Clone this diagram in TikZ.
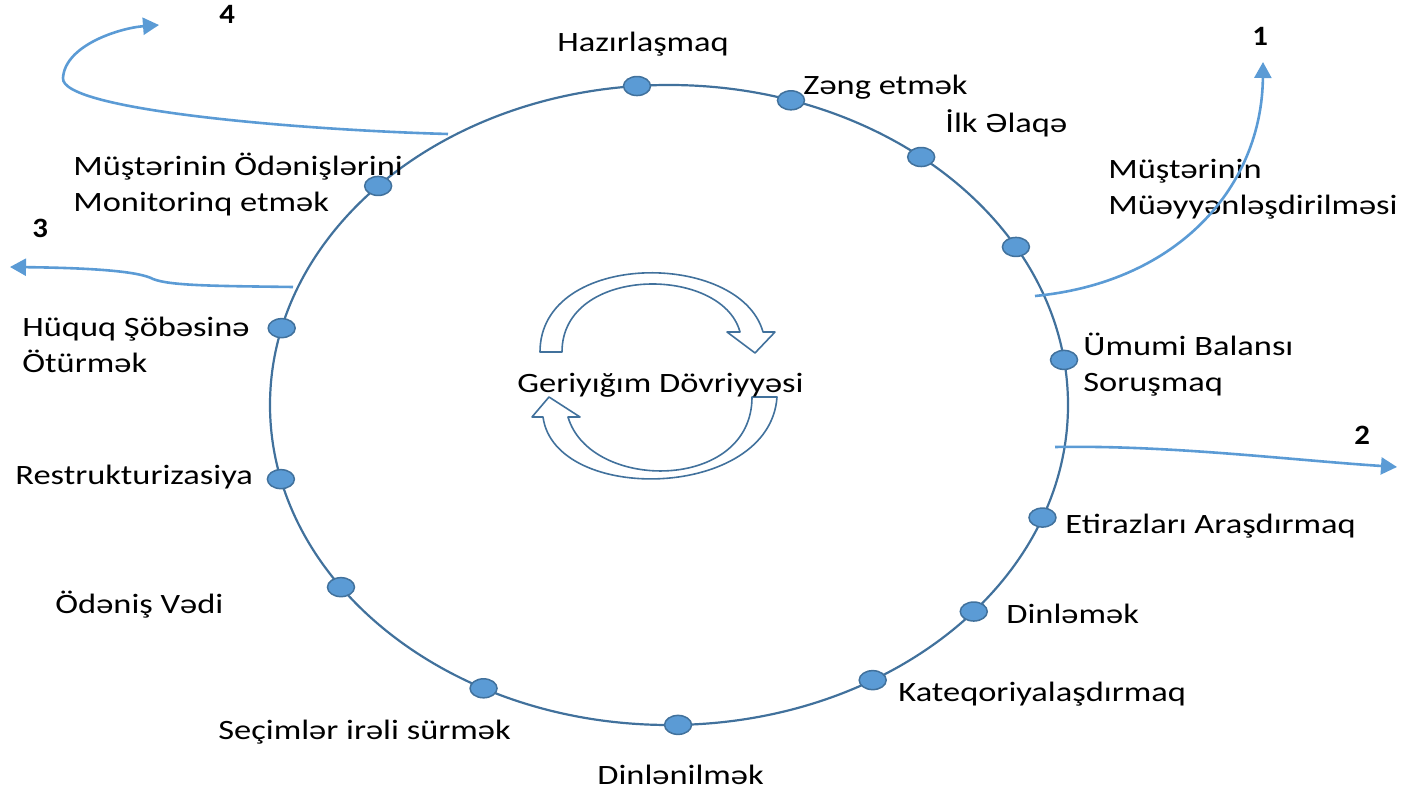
\documentclass[tikz,border=0pt]{standalone}
\usepackage{fontspec}
\setmainfont[FakeStretch=1.23]{Carlito}
\newfontfamily\numfont[FakeStretch=1.1]{Carlito}
\usetikzlibrary{arrows.meta,shapes.geometric}
\definecolor{ringblue}{HTML}{41719C}
\definecolor{dotblue}{HTML}{5B9BD5}
\definecolor{flowblue}{HTML}{5B9BD5}

\begin{document}
\begin{tikzpicture}[
  x=0.5pt,y=-0.5pt,
  dot/.style={ellipse,draw=ringblue,fill=dotblue,line width=0.75pt,minimum width=13.5pt,minimum height=9.5pt,inner sep=0pt},
  lbl/.style={anchor=base west,inner sep=0pt,align=left,font=\fontsize{14}{18}\selectfont},
  num/.style={anchor=base west,inner sep=0pt,font=\numfont\bfseries\fontsize{14}{16}\selectfont},
  flow/.style={draw=flowblue,line width=1.3pt,-{Triangle[length=8pt,width=8.5pt]}},
  cyc/.style={draw=ringblue,fill=white,line width=0.8pt,line join=round}
]
\useasboundingbox (0,0) rectangle (1418,795);

\coordinate (ring) at (669,405);
\draw[ringblue,line width=1.1pt] (ring) ellipse [x radius=199.5pt,y radius=160pt];

\node[dot] (prep)    at ({669+399*cos(94.6)},{405-320*sin(94.6)}) {};
\node[dot] (call)    at ({669+399*cos(72.2)},{405-320*sin(72.2)}) {};
\node[dot] (contact) at ({669+399*cos(50.8)},{405-320*sin(50.8)}) {};
\node[dot] (ident)   at ({669+399*cos(29.6)},{405-320*sin(29.6)}) {};
\node[dot] (balance) at ({669+399*cos(8.1)},{405-320*sin(8.1)}) {};
\node[dot] (dispute) at ({669+399*cos(-20.6)},{405-320*sin(-20.6)}) {};
\node[dot] (listen)  at ({669+399*cos(-40.2)},{405-320*sin(-40.2)}) {};
\node[dot] (categ)   at ({669+399*cos(-59.3)},{405-320*sin(-59.3)}) {};
\node[dot] (heard)   at ({669+399*cos(-88.7)},{405-320*sin(-88.7)}) {};
\node[dot] (options) at ({669+399*cos(-117.7)},{405-320*sin(-117.7)}) {};
\node[dot] (promise) at ({669+399*cos(-145.3)},{405-320*sin(-145.3)}) {};
\node[dot] (restr)   at ({669+399*cos(-166.6)},{405-320*sin(-166.6)}) {};
\node[dot] (legal)   at ({669+399*cos(166.1)},{405-320*sin(166.1)}) {};
\node[dot] (monitor) at ({669+399*cos(136.8)},{405-320*sin(136.8)}) {};

\node[lbl] (prepL)    at (557,52)   {Hazırlaşmaq};
\node[lbl] (callL)    at (803,95)   {Zəng etmək};
\node[lbl] (contactL) at (945,133)  {İlk Əlaqə};
\node[lbl] (identL)   at (1108,215) {Müştərinin\\Müəyyənləşdirilməsi};
\node[lbl] (balanceL) at (1083,392) {Ümumi Balansı\\Soruşmaq};
\node[lbl] (disputeL) at (1065,534) {Etirazları Araşdırmaq};
\node[lbl] (listenL)  at (1006,624) {Dinləmək};
\node[lbl] (categL)   at (898,702)  {Kateqoriyalaşdırmaq};
\node[lbl] (heardL)   at (597,784)  {Dinlənilmək};
\node[lbl] (optionsL) at (218,740)  {Seçimlər irəli sürmək};
\node[lbl] (promiseL) at (55,614)   {Ödəniş Vədi};
\node[lbl] (restrL)   at (15,485)   {Restrukturizasiya};
\node[lbl] (legalL)   at (22,373)   {Hüquq Şöbəsinə\\Ötürmək};
\node[lbl] (monitorL) at (73,212)   {Müştərinin Ödənişlərini\\Monitorinq etmək};

\draw[cyc] (562,352) .. controls (562,265) and (722,265) .. (740,332) -- (727,332) -- (755,353) -- (775,332) -- (763,332)
  .. controls (740,250) and (540,250) .. (540,352) -- cycle;
\draw[cyc] (752,397) .. controls (752,492) and (590,492) .. (568,417) -- (580,417) -- (549,397) -- (532,417) -- (543,417)
  .. controls (555,505) and (770,500) .. (777,397) -- cycle;
\node[lbl] (cycle) at (517,393) {Geriyığım Dövriyyəsi};

\coordinate (s1) at (1035,296);
\coordinate (e1) at (1263,62);
\coordinate (s2) at (1055,447);
\coordinate (e2) at (1397,467);
\coordinate (s3) at (293,287);
\coordinate (e3) at (10,267);
\coordinate (s4) at (448,134);
\coordinate (e4) at (159,25);

\draw[flow] (s1) .. controls (1180,282) and (1262,185) .. (e1);
\draw[flow] (s2) .. controls (1170,445) and (1290,460) .. (e2);
\draw[flow] (s3) .. controls (220,286) and (170,286) .. (153,279) .. controls (140,272) and (100,268) .. (e3);
\draw[flow] (s4) .. controls (300,130) and (60,110) .. (63,78) .. controls (65,45) and (120,28) .. (e4);

\node[num] (n1) at (1252,46)  {1};
\node[num] (n2) at (1354,445) {2};
\node[num] (n3) at (32,238)   {3};
\node[num] (n4) at (219,24)   {4};
\end{tikzpicture}
\end{document}
